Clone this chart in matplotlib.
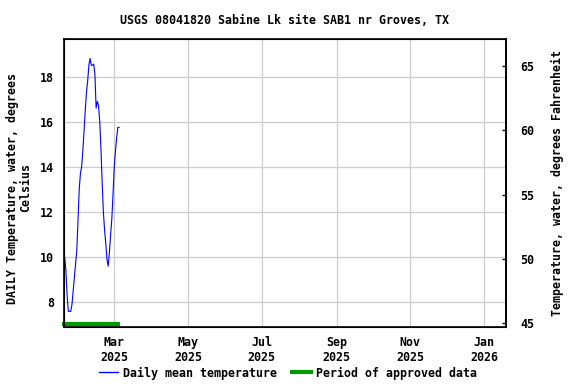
import datetime
import numpy as np
import matplotlib
matplotlib.use("Agg")
import matplotlib.pyplot as plt
import matplotlib.dates as mdates
from matplotlib.lines import Line2D

# Daily mean water temperature, deg C, one value per day from 2025-01-19
start_date = datetime.date(2025, 1, 19)
temp_c = [10.0, 9.4, 8.3, 7.6, 7.6, 7.6, 7.9, 8.5, 9.1, 9.7,
          10.3, 11.6, 13.0, 13.7, 14.0, 14.7, 15.6, 16.5, 17.3, 17.8,
          18.5, 18.8, 18.5, 18.5, 18.55, 18.1, 16.6, 16.9, 16.7, 16.0,
          14.8, 13.3, 12.0, 11.2, 10.6, 9.9, 9.6, 10.2, 11.0, 11.7,
          12.8, 14.0, 14.7, 15.3, 15.75, 15.75]
dates = [start_date + datetime.timedelta(days=i) for i in range(len(temp_c))]

# approved data period
approved_start = datetime.date(2025, 1, 17)
approved_end = datetime.date(2025, 3, 6)
approved_level = 7.05

x_limits = (datetime.datetime(2025, 1, 18, 10), datetime.datetime(2026, 1, 19, 5))
c_limits = (6.92, 19.65)
f_limits = (44.74, 67.08)
c_ticks = [8, 10, 12, 14, 16, 18]
f_ticks = [45, 50, 55, 60, 65]

title = "USGS 08041820 Sabine Lk site SAB1 nr Groves, TX"
left_label = "DAILY Temperature, water, degrees\nCelsius"
right_label = "Temperature, water, degrees Fahrenheit"

plt.rcParams["font.family"] = "DejaVu Sans Mono"
plt.rcParams["font.weight"] = "bold"
fs = 8.4

fig = plt.figure(figsize=(5.76, 3.84), dpi=100)
ax = fig.add_axes([64 / 576, 1 - 326.7 / 384, (506 - 64) / 576, (326.7 - 39.3) / 384])

ax.plot(dates, temp_c, color="#0000ff", linewidth=0.8)
ax.plot([approved_start, approved_end], [approved_level, approved_level],
        color="#009900", linewidth=3, solid_capstyle="butt", clip_on=False)

ax.set_xlim(x_limits)
ax.set_ylim(c_limits)
ax.set_yticks(c_ticks)
ax.xaxis.set_major_locator(mdates.MonthLocator(bymonth=[1, 3, 5, 7, 9, 11]))
ax.xaxis.set_major_formatter(mdates.DateFormatter("%b\n%Y"))
ax.grid(True, color="#cccccc", linewidth=0.9)
ax.tick_params(axis="both", length=0, labelsize=fs)
ax.tick_params(axis="y", pad=7)
ax.tick_params(axis="x", pad=7)
for s in ax.spines.values():
    s.set_linewidth(1.2)

ax2 = ax.twinx()
ax2.set_ylim(f_limits)
ax2.set_yticks(f_ticks)
ax2.tick_params(axis="y", direction="in", length=3, width=1, labelsize=fs, pad=10)
ax2.spines["right"].set_linewidth(1.2)

fig.text(285 / 576, 1 - 20 / 384, title, ha="center", va="center", fontsize=fs)
fig.text(19 / 576, 1 - 188 / 384, left_label, rotation=90, ha="center", va="center",
         multialignment="center", fontsize=fs, linespacing=1.0)
fig.text(557 / 576, 1 - 183 / 384, right_label, rotation=90, ha="center", va="center",
         fontsize=fs)

handles = [Line2D([], [], color="#0000ff", linewidth=1),
           Line2D([], [], color="#009900", linewidth=3)]
fig.legend(handles, ["Daily mean temperature", "Period of approved data"],
           loc="center", bbox_to_anchor=(0.5, 1 - 373 / 384), ncol=2, frameon=False,
           fontsize=fs, handlelength=1.6, handletextpad=0.45, columnspacing=1.3)

fig.savefig("out.png", dpi=100)
